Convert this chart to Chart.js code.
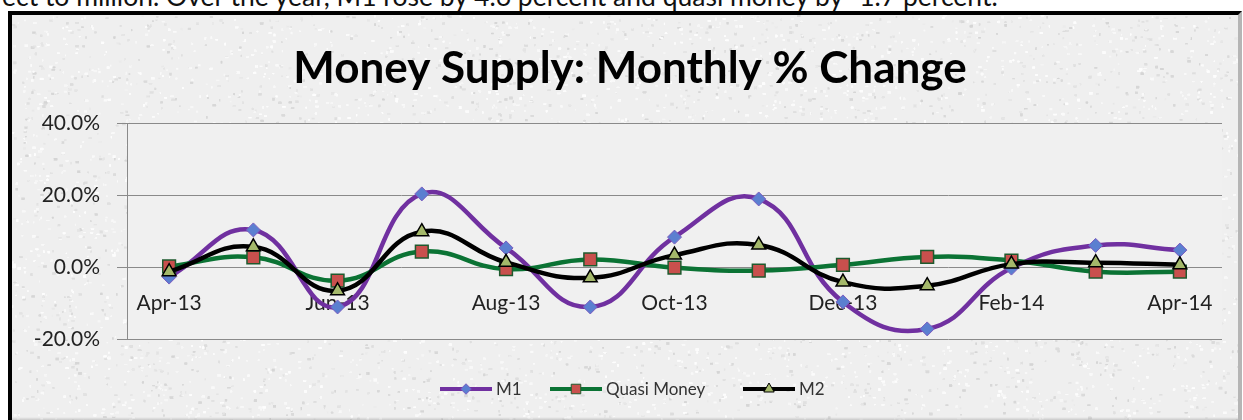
<!DOCTYPE html>
<html>
<head>
<meta charset="utf-8">
<script src="https://cdn.jsdelivr.net/npm/chart.js@4.4.1/dist/chart.umd.min.js"></script>
<style>
  html, body { margin: 0; padding: 0; background: #fff; }
  body { width: 1243px; height: 420px; position: relative; overflow: hidden; }
  #topText {
    position: absolute; left: 2px; top: -20px; white-space: nowrap;
    font: 26.5px Lato, "Open Sans", sans-serif; color: #111;
  }
  #frame {
    position: absolute; left: 8px; top: 11px; width: 1226px; height: 420px;
    border-top: 4px solid #000; border-left: 4px solid #000;
    border-right: 4px solid #b5b5b5; box-sizing: content-box;
  }
  #texture { position: absolute; left: 12px; top: 15px; }
  #chart { position: absolute; left: 0; top: 0; }
</style>
</head>
<body>
<div id="topText">ect to million. Over the year, M1 rose by 4.6 percent and quasi money by -1.7 percent.</div>
<div id="frame"></div>
<canvas id="texture" width="1226" height="410"></canvas>
<canvas id="chart" width="1243" height="420"></canvas>
<script>
// 月份
const months = ['Apr-13', 'May-13', 'Jun-13', 'Jul-13', 'Aug-13', 'Sep-13', 'Oct-13',
                'Nov-13', 'Dec-13', 'Jan-14', 'Feb-14', 'Mar-14', 'Apr-14'];
// 各序列 (%)
const m1Values    = [-2.8, 10.3, -11.1, 20.3, 5.3, -11.1, 8.3, 18.9, -9.7, -17.2, -0.3, 6.0, 4.7];
const quasiValues = [0.2, 2.7, -3.8, 4.3, -0.6, 2.1, -0.2, -1.0, 0.6, 2.8, 1.8, -1.3, -1.3];
const m2Values    = [-1.3, 5.6, -6.6, 9.8, 1.3, -3.0, 3.3, 6.1, -4.2, -5.2, 0.8, 1.2, 0.6];
const yTicks = [-20, 0, 20, 40];

// 背景纹理 (纸张效果)
function drawTexture() {
  const c = document.getElementById('texture');
  const ctx = c.getContext('2d');
  ctx.fillStyle = '#efefef';
  ctx.fillRect(0, 0, c.width, c.height);
  let seed = 12345;
  const rnd = () => { seed = (seed * 1103515245 + 12345) % 2147483648; return seed / 2147483648; };
  for (let i = 0; i < 30000; i++) {
    const x = rnd() * c.width, y = rnd() * c.height;
    const light = rnd() < 0.55;
    const g = light ? 246 + Math.floor(rnd() * 8) : 212 + Math.floor(rnd() * 20);
    ctx.fillStyle = `rgba(${g},${g},${g},${light ? 0.8 : 0.45})`;
    ctx.fillRect(x, y, 1 + rnd() * 2.5, 1 + rnd() * 1.5);
  }
  // 底部阴影
  const grd = ctx.createLinearGradient(0, c.height - 8, 0, c.height);
  grd.addColorStop(0, 'rgba(120,120,120,0)');
  grd.addColorStop(1, 'rgba(90,90,90,0.8)');
  ctx.fillStyle = grd;
  ctx.fillRect(0, c.height - 8, c.width, 8);
}
drawTexture();

// 绘图区背景 + 标题 + 图例
const decorPlugin = {
  id: 'decor',
  beforeDraw(chart) {
    const { ctx, chartArea: a } = chart;
    ctx.save();
    ctx.fillStyle = '#f0f0f0';
    ctx.fillRect(a.left, a.top, a.right - a.left, a.bottom - a.top);
    ctx.restore();
  },
  afterDraw(chart) {
    const ctx = chart.ctx;
    ctx.save();
    ctx.fillStyle = '#000';
    ctx.font = 'bold 44px Lato, sans-serif';
    ctx.textAlign = 'center';
    ctx.textBaseline = 'alphabetic';
    ctx.fillText('Money Supply: Monthly % Change', 630, 83);

    // 图例
    const items = [
      { ds: chart.data.datasets[0], x: 440 },
      { ds: chart.data.datasets[1], x: 550 },
      { ds: chart.data.datasets[2], x: 743 }
    ];
    const ly = 389;
    ctx.font = '17px Lato, sans-serif';
    ctx.textAlign = 'left';
    ctx.textBaseline = 'middle';
    items.forEach(it => {
      const ds = it.ds;
      ctx.strokeStyle = ds.borderColor;
      ctx.lineWidth = 4;
      ctx.beginPath();
      ctx.moveTo(it.x, ly);
      ctx.lineTo(it.x + 52, ly);
      ctx.stroke();
      ctx.fillStyle = ds.pointBackgroundColor;
      ctx.strokeStyle = ds.pointBorderColor;
      ctx.lineWidth = 1;
      Chart.helpers.drawPoint(ctx, {
        pointStyle: ds.pointStyle, radius: ds.pointRadius * 0.75, borderWidth: 1
      }, it.x + 26, ly);
      ctx.fillStyle = '#333';
      ctx.fillText(ds.label, it.x + 56, ly + 1);
    });
    ctx.restore();
  }
};

const ctx = document.getElementById('chart').getContext('2d');
const chart = new Chart(ctx, {
  type: 'line',
  data: {
    labels: months,
    datasets: [
      {
        label: 'M1',
        data: m1Values,
        borderColor: '#7030a0',
        borderWidth: 4.5,
        pointStyle: 'rectRot',
        pointRadius: 7,
        pointBackgroundColor: '#5b7fd0',
        pointBorderColor: '#7a5cc0',
        pointBorderWidth: 1,
        tension: 0.45,
        order: 3
      },
      {
        label: 'Quasi Money',
        data: quasiValues,
        borderColor: '#0b7334',
        borderWidth: 4.5,
        pointStyle: 'rect',
        pointRadius: 9,
        pointBackgroundColor: '#c9504d',
        pointBorderColor: '#1e5a2e',
        pointBorderWidth: 1.5,
        tension: 0.45,
        order: 2
      },
      {
        label: 'M2',
        data: m2Values,
        borderColor: '#000000',
        borderWidth: 4.5,
        pointStyle: 'triangle',
        pointRadius: 8,
        pointBackgroundColor: '#a4b86a',
        pointBorderColor: '#000',
        pointBorderWidth: 1.5,
        tension: 0.45,
        order: 1
      }
    ]
  },
  options: {
    responsive: false,
    animation: false,
    layout: { padding: { top: 123, bottom: 81, left: 0, right: 21 } },
    plugins: {
      legend: { display: false },
      title: { display: false },
      tooltip: { enabled: false }
    },
    scales: {
      x: {
        position: { y: 0 },
        offset: true,
        grid: { display: false },
        border: { display: false },
        ticks: {
          autoSkip: false,
          maxRotation: 0,
          padding: 16,
          color: '#222',
          font: { family: 'Lato', size: 21 },
          callback: (v, i) => (i % 2 === 0 ? months[i] : '')
        }
      },
      y: {
        min: -20,
        max: 40,
        afterBuildTicks: s => { s.ticks = yTicks.map(v => ({ value: v })); },
        afterFit: s => { s.width = 127; },
        grid: { color: '#8a8a8a', lineWidth: 1, tickLength: 10 },
        border: { color: '#8a8a8a' },
        ticks: {
          padding: 17,
          color: '#222',
          font: { family: 'Lato', size: 21 },
          callback: v => v.toFixed(1) + '%'
        }
      }
    }
  },
  plugins: [decorPlugin]
});
</script>
</body>
</html>
